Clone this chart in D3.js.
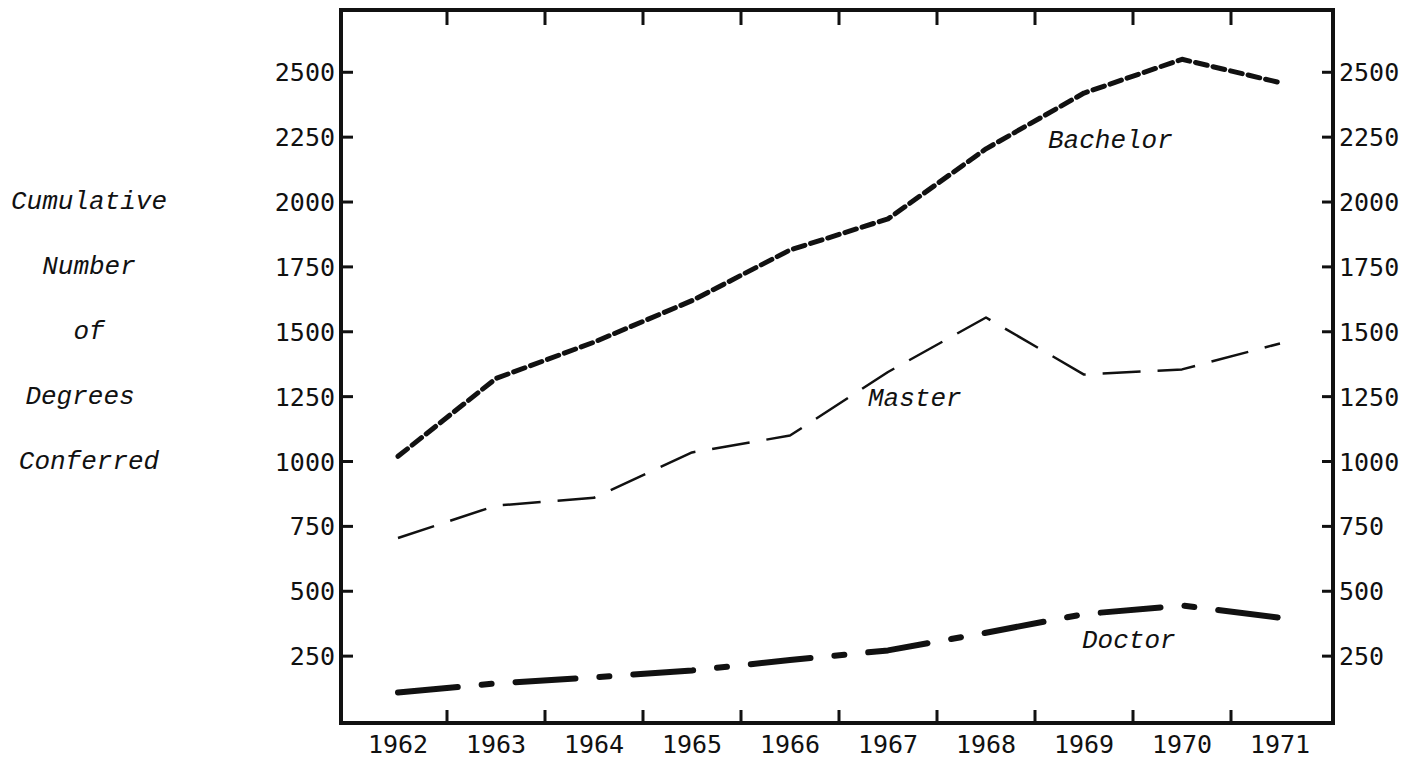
<!DOCTYPE html>
<html>
<head>
<meta charset="utf-8">
<script src="https://cdn.jsdelivr.net/npm/d3@7"></script>
<style>
  body { margin: 0; background: #fff; }
</style>
</head>
<body>
<div id="chart"></div>
<script>
// data
const years = ["1962", "1963", "1964", "1965", "1966", "1967", "1968", "1969", "1970", "1971"];
const bachelor = [1020, 1320, 1460, 1620, 1815, 1935, 2205, 2420, 2550, 2460];
const master = [705, 830, 860, 1035, 1100, 1345, 1555, 1335, 1355, 1455];
const doctor = [110, 145, 168, 195, 235, 272, 340, 412, 445, 398];
const yTicks = [250, 500, 750, 1000, 1250, 1500, 1750, 2000, 2250, 2500];
const titleLines = ["Cumulative", "Number", "of", "Degrees", "Conferred"];

const svg = d3.select("#chart").append("svg")
    .attr("width", 1418)
    .attr("height", 760);

const margin = { top: 10, right: 85, bottom: 37, left: 341 };
const graphWidth = 1418 - margin.left - margin.right;
const graphHeight = 760 - margin.top - margin.bottom;

const graph = svg.append("g")
    .attr("transform", `translate(${margin.left},${margin.top})`);

// scales
const x = d3.scaleBand()
    .domain(years)
    .range([8, graphWidth - 4]);

const y = d3.scaleLinear()
    .domain([0, 2740])
    .range([graphHeight - 2, 0]);

const ink = "#111";
const tickFont = "'DejaVu Sans Mono', monospace";
const labelFont = "'Liberation Mono', 'Courier New', monospace";

// frame
graph.append("rect")
    .attr("x", 0)
    .attr("y", 0)
    .attr("width", graphWidth)
    .attr("height", graphHeight)
    .attr("fill", "none")
    .attr("stroke", ink)
    .attr("stroke-width", 4);

// x ticks sit on band boundaries, top and bottom, pointing inward
const bounds = years.slice(1).map(d => x(d));
graph.selectAll(".xtick-bottom")
    .data(bounds)
    .enter().append("line")
    .attr("x1", d => d).attr("x2", d => d)
    .attr("y1", graphHeight).attr("y2", graphHeight - 13)
    .attr("stroke", ink).attr("stroke-width", 3);
graph.selectAll(".xtick-top")
    .data(bounds)
    .enter().append("line")
    .attr("x1", d => d).attr("x2", d => d)
    .attr("y1", 0).attr("y2", 15)
    .attr("stroke", ink).attr("stroke-width", 3);

graph.selectAll(".xlabel")
    .data(years)
    .enter().append("text")
    .attr("x", d => x(d) + x.bandwidth() / 2)
    .attr("y", graphHeight + 30)
    .attr("text-anchor", "middle")
    .style("font-family", tickFont)
    .style("font-size", "25px")
    .attr("fill", ink)
    .text(d => d);

// y ticks on both sides, pointing inward
graph.selectAll(".ytick-left")
    .data(yTicks)
    .enter().append("line")
    .attr("x1", 0).attr("x2", 12)
    .attr("y1", d => y(d)).attr("y2", d => y(d))
    .attr("stroke", ink).attr("stroke-width", 3);
graph.selectAll(".ytick-right")
    .data(yTicks)
    .enter().append("line")
    .attr("x1", graphWidth - 11).attr("x2", graphWidth)
    .attr("y1", d => y(d)).attr("y2", d => y(d))
    .attr("stroke", ink).attr("stroke-width", 3);

graph.selectAll(".ylabel-left")
    .data(yTicks)
    .enter().append("text")
    .attr("x", -6)
    .attr("y", d => y(d) + 9)
    .attr("text-anchor", "end")
    .style("font-family", tickFont)
    .style("font-size", "25px")
    .attr("fill", ink)
    .text(d => d);
graph.selectAll(".ylabel-right")
    .data(yTicks)
    .enter().append("text")
    .attr("x", graphWidth + 6)
    .attr("y", d => y(d) + 9)
    .attr("text-anchor", "start")
    .style("font-family", tickFont)
    .style("font-size", "25px")
    .attr("fill", ink)
    .text(d => d);

// lines
const line = d3.line()
    .x((d, i) => x(years[i]) + x.bandwidth() / 2)
    .y(d => y(d));

const series = [
    { name: "Bachelor", values: bachelor, width: 5, dash: "12,6", cap: "round" },
    { name: "Master", values: master, width: 2.5, dash: "38,17", cap: "butt" },
    { name: "Doctor", values: doctor, width: 6, dash: "60,24,10,24", cap: "round" }
];

graph.selectAll(".series")
    .data(series)
    .enter().append("path")
    .attr("d", d => line(d.values))
    .attr("fill", "none")
    .attr("stroke", ink)
    .attr("stroke-width", d => d.width)
    .attr("stroke-dasharray", d => d.dash)
    .attr("stroke-linecap", d => d.cap)
    .attr("stroke-linejoin", "round");

// series labels
const seriesLabels = [
    { text: "Bachelor", year: "1969", value: 2208, dx: 13 },
    { text: "Master", year: "1967", value: 1214, dx: 29 },
    { text: "Doctor", year: "1969", value: 281, dx: 47 }
];
graph.selectAll(".series-label")
    .data(seriesLabels)
    .enter().append("text")
    .attr("x", d => x(d.year) + d.dx)
    .attr("y", d => y(d.value))
    .style("font-family", labelFont)
    .style("font-style", "italic")
    .style("font-size", "26px")
    .attr("fill", ink)
    .text(d => d.text);

// stacked y axis title, one line per tick row
svg.selectAll(".ytitle")
    .data(titleLines)
    .enter().append("text")
    .attr("x", (d, i) => i === 3 ? 80 : 89)
    .attr("y", (d, i) => margin.top + y(2000 - i * 250) + 7)
    .attr("text-anchor", "middle")
    .style("font-family", labelFont)
    .style("font-style", "italic")
    .style("font-size", "26px")
    .attr("fill", ink)
    .text(d => d);
</script>
</body>
</html>
